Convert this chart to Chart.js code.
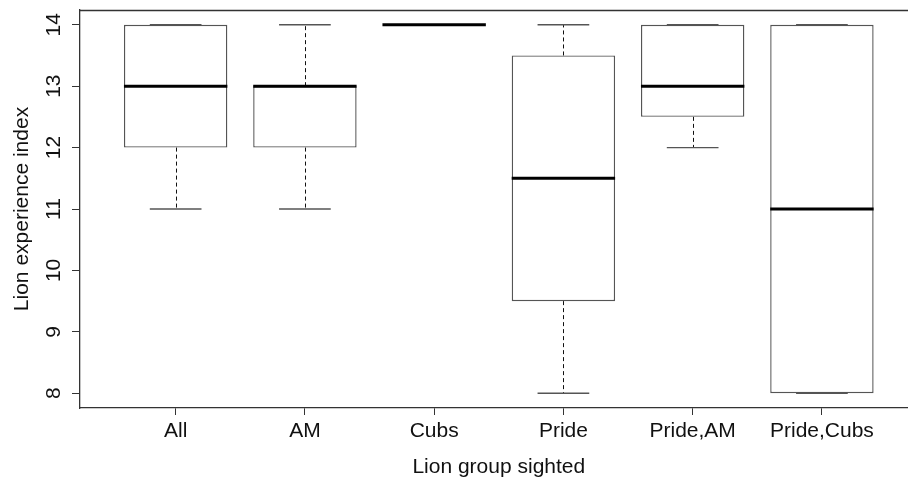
<!DOCTYPE html>
<meta charset="utf-8" />
<title>Lion experience index by group</title>
<script src="https://cdn.jsdelivr.net/npm/chart.js@4/dist/chart.umd.min.js"></script>
<style>
body {
	margin: 0;
	background: #fff;
	overflow: hidden;
}
</style>

<canvas class="chart" width="908" height="479"></canvas>

<script>
const groups = ['All', 'AM', 'Cubs', 'Pride', 'Pride,AM', 'Pride,Cubs'];
const whiskerLow = [11, 11, 14, 8, 12, 8];
const lowerQuartile = [12, 12, 14, 9.5, 12.5, 8];
const median = [13, 13, 14, 11.5, 13, 11];
const upperQuartile = [14, 13, 14, 13.5, 14, 14];
const whiskerHigh = [14, 14, 14, 14, 14, 14];
const yTicks = [8, 9, 10, 11, 12, 13, 14];

const FONT = '"Liberation Sans", Arial, sans-serif';
const LINE = '#555';

// whiskers, staples, medians, frame and rotated texts, all placed via the scales
const boxPlot = {
	id: 'boxPlot',
	afterDatasetsDraw(chart) {
		const ctx = chart.ctx;
		const x = chart.scales.x;
		const y = chart.scales.y;
		const half = x.getPixelForValue(1.4) - x.getPixelForValue(1);
		const staple = half / 2;

		ctx.save();
		groups.forEach((g, i) => {
			const cx = x.getPixelForValue(i + 1);
			const py = v => y.getPixelForValue(v);

			// dashed whiskers
			ctx.strokeStyle = '#111';
			ctx.lineWidth = 1;
			ctx.setLineDash([4, 3]);
			ctx.beginPath();
			if (whiskerHigh[i] > upperQuartile[i]) {
				ctx.moveTo(Math.round(cx) + 0.5, py(upperQuartile[i]));
				ctx.lineTo(Math.round(cx) + 0.5, py(whiskerHigh[i]));
			}
			if (whiskerLow[i] < lowerQuartile[i]) {
				ctx.moveTo(Math.round(cx) + 0.5, py(lowerQuartile[i]));
				ctx.lineTo(Math.round(cx) + 0.5, py(whiskerLow[i]));
			}
			ctx.stroke();
			ctx.setLineDash([]);

			// staples
			ctx.strokeStyle = LINE;
			ctx.lineWidth = 1.4;
			ctx.beginPath();
			ctx.moveTo(cx - staple, py(whiskerHigh[i]));
			ctx.lineTo(cx + staple, py(whiskerHigh[i]));
			ctx.moveTo(cx - staple, py(whiskerLow[i]));
			ctx.lineTo(cx + staple, py(whiskerLow[i]));
			ctx.stroke();

			// median
			ctx.strokeStyle = '#000';
			ctx.lineWidth = 3;
			ctx.beginPath();
			ctx.moveTo(cx - half, py(median[i]));
			ctx.lineTo(cx + half, py(median[i]));
			ctx.stroke();
		});

		// top of the frame
		const area = chart.chartArea;
		ctx.strokeStyle = '#333';
		ctx.lineWidth = 1.3;
		ctx.beginPath();
		ctx.moveTo(area.left, area.top + 0.5);
		ctx.lineTo(area.right, area.top + 0.5);
		ctx.stroke();

		// y tick labels, parallel to the axis
		ctx.fillStyle = '#111';
		ctx.font = '21px ' + FONT;
		ctx.textAlign = 'center';
		ctx.textBaseline = 'alphabetic';
		yTicks.forEach(t => {
			ctx.save();
			ctx.translate(60, y.getPixelForValue(t));
			ctx.rotate(-Math.PI / 2);
			ctx.fillText(String(t), 0, 0);
			ctx.restore();
		});

		// axis titles
		ctx.save();
		ctx.translate(28, (y.getPixelForValue(y.min) + y.getPixelForValue(y.max)) / 2);
		ctx.rotate(-Math.PI / 2);
		ctx.fillText('Lion experience index', 0, 0);
		ctx.restore();
		ctx.fillText('Lion group sighted', x.getPixelForValue(3.5), 473);
		ctx.restore();
	}
};

new Chart(document.querySelector('.chart'), {
	type: 'bar',
	data: {
		datasets: [{
			data: groups.map((g, i) => ({x: i + 1, y: [lowerQuartile[i], upperQuartile[i]]})),
			backgroundColor: '#fff',
			borderColor: LINE,
			borderWidth: 1.4,
			borderSkipped: false,
			barPercentage: 0.8,
			categoryPercentage: 1,
		}]
	},
	options: {
		responsive: false,
		animation: false,
		layout: {padding: {top: 10, left: 0, right: 0, bottom: 0}},
		plugins: {
			legend: {display: false},
			tooltip: {enabled: false},
		},
		scales: {
			x: {
				type: 'linear',
				min: 0.26,
				max: 6.666,
				offset: false,
				afterBuildTicks: scale => {
					scale.ticks = groups.map((g, i) => ({value: i + 1}));
				},
				afterFit: scale => {
					scale.height = 71;
				},
				grid: {
					display: true,
					offset: false,
					drawOnChartArea: false,
					drawTicks: true,
					tickLength: 7,
					tickColor: '#333',
				},
				border: {display: true, color: '#333', width: 1.3},
				ticks: {
					autoSkip: false,
					maxRotation: 0,
					padding: 4,
					color: '#111',
					font: {family: FONT, size: 21},
					callback: v => groups[v - 1],
				},
			},
			y: {
				min: 7.76,
				max: 14.24,
				afterBuildTicks: scale => {
					scale.ticks = yTicks.map(v => ({value: v}));
				},
				afterFit: scale => {
					scale.width = 80;
				},
				grid: {
					display: true,
					drawOnChartArea: false,
					drawTicks: true,
					tickLength: 8,
					tickColor: '#333',
				},
				border: {display: true, color: '#333', width: 1.3},
				ticks: {
					display: false,
				},
			},
		},
	},
	plugins: [boxPlot],
});
</script>
